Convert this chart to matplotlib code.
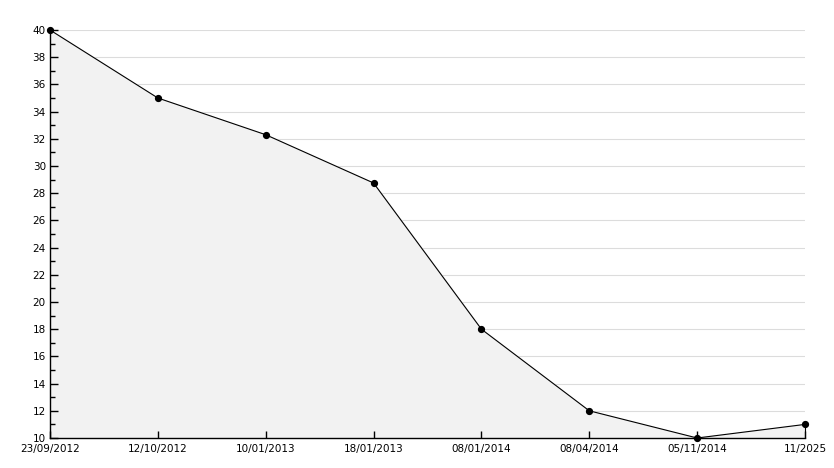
import matplotlib
matplotlib.use("Agg")
import matplotlib.pyplot as plt
from matplotlib.ticker import MultipleLocator

labels = ["23/09/2012", "12/10/2012", "10/01/2013", "18/01/2013",
          "08/01/2014", "08/04/2014", "05/11/2014", "11/2025"]
values = [40, 35, 32.3, 28.75, 18, 12, 10, 11]

plt.rcParams['font.family'] = ['DejaVu Sans']
fig = plt.figure(figsize=(8.34, 4.68), dpi=100)
ax = fig.add_axes([50/834, 30/468, 755/834, 408/468])

x = list(range(len(values)))
ymin, ymax = 10, 40

for yv in range(12, 41, 2):
    ax.axhline(yv, color="#dcdcdc", lw=0.8, zorder=0)

ax.fill_between(x, values, ymin, color="#f2f2f2", zorder=1)
ax.plot(x, values, color="black", lw=0.8, zorder=3, clip_on=False)
ax.vlines(x[-1], ymin, values[-1], color="black", lw=0.8, zorder=3, clip_on=False)
ax.plot(x, values, linestyle="none", marker="o", ms=4.2, color="black",
        zorder=5, clip_on=False)

ax.set_xlim(x[0], x[-1])
ax.set_ylim(ymin, ymax)
ax.set_xticks(x)
ax.set_xticklabels(labels)
ax.yaxis.set_major_locator(MultipleLocator(2))
ax.yaxis.set_minor_locator(MultipleLocator(1))

for s in ["top", "right"]:
    ax.spines[s].set_visible(False)
ax.spines["left"].set_linewidth(1.0)
ax.spines["bottom"].set_linewidth(1.0)

ax.tick_params(axis="y", which="major", direction="in", length=6, width=1, labelsize=7.5, pad=3)
ax.tick_params(axis="y", which="minor", direction="in", length=3.5, width=1)
ax.tick_params(axis="x", which="major", direction="in", length=5, width=1, labelsize=7.5, pad=4)

fig.savefig("out.png", dpi=100)
